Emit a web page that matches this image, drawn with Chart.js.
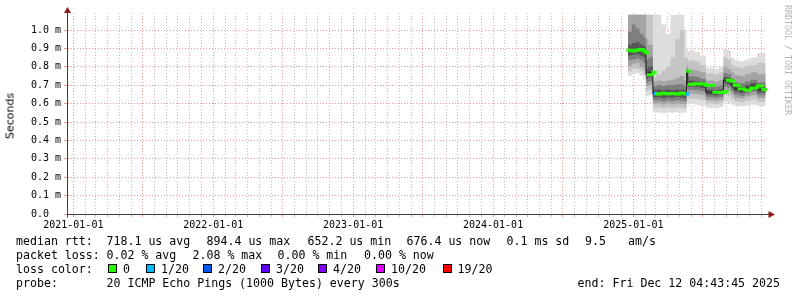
<!DOCTYPE html>
<html lang="en">
<head>
<meta charset="UTF-8">
<title>Smokeping latency</title>
<script src="https://cdn.jsdelivr.net/npm/chart.js@4.4.1/dist/chart.umd.min.js"></script>
<style>
  body { margin: 0; background: #fff; }
  #wrap { position: relative; width: 797px; height: 297px; overflow: hidden; font-family: 'DejaVu Sans Mono', monospace; font-size: 11.6px; color: #000; }
  #chart { position: absolute; left: 0; top: 0; }
  .t { position: absolute; white-space: pre; line-height: 14px; }
  .sq { position: absolute; width: 7px; height: 7px; border: 1px solid #000; top: 264px; }
  #ylab { position: absolute; left: 10px; top: 116px; transform: translate(-50%, -50%) rotate(-90deg); font-family: 'DejaVu Sans', sans-serif; font-size: 11px; white-space: nowrap; }
  #mark { position: absolute; left: 783px; top: 5px; writing-mode: vertical-rl; font-size: 8.3px; color: #b4b4b4; }
</style>
</head>
<body>
<div id="wrap">
  <canvas id="chart" width="797" height="297"></canvas>
  <div id="ylab">Seconds</div>
  <div id="mark">RRDTOOL / TOBI OETIKER</div>

  <span class="t" style="left:16px;top:234px">median rtt:</span>
  <span class="t" style="left:106.5px;top:234px">718.1 us avg</span>
  <span class="t" style="left:206.5px;top:234px">894.4 us max</span>
  <span class="t" style="left:307.5px;top:234px">652.2 us min</span>
  <span class="t" style="left:406.5px;top:234px">676.4 us now</span>
  <span class="t" style="left:506.5px;top:234px">0.1 ms sd</span>
  <span class="t" style="left:585px;top:234px">9.5</span>
  <span class="t" style="left:628px;top:234px">am/s</span>

  <span class="t" style="left:16px;top:248px">packet loss:</span>
  <span class="t" style="left:106.5px;top:248px">0.02 % avg</span>
  <span class="t" style="left:192.5px;top:248px">2.08 % max</span>
  <span class="t" style="left:277.5px;top:248px">0.00 % min</span>
  <span class="t" style="left:364px;top:248px">0.00 % now</span>

  <span class="t" style="left:16px;top:262px">loss color:</span>
  <div class="sq" style="left:108px;background:#26ff00"></div><span class="t" style="left:123px;top:262px">0</span>
  <div class="sq" style="left:146px;background:#00b8ff"></div><span class="t" style="left:161px;top:262px">1/20</span>
  <div class="sq" style="left:203px;background:#0059ff"></div><span class="t" style="left:218px;top:262px">2/20</span>
  <div class="sq" style="left:261px;background:#5e00ff"></div><span class="t" style="left:276px;top:262px">3/20</span>
  <div class="sq" style="left:318px;background:#7e00ff"></div><span class="t" style="left:333px;top:262px">4/20</span>
  <div class="sq" style="left:376px;background:#dd00ff"></div><span class="t" style="left:391px;top:262px">10/20</span>
  <div class="sq" style="left:442.5px;background:#ff0000"></div><span class="t" style="left:457.5px;top:262px">19/20</span>

  <span class="t" style="left:16px;top:276px">probe:</span>
  <span class="t" style="left:106.5px;top:276px">20 ICMP Echo Pings (1000 Bytes) every 300s</span>
  <span class="t" style="right:17px;top:276px">end: Fri Dec 12 04:43:45 2025</span>
</div>
<script>
    // Sample times (each value holds until the next date)
    const dates = [
        '2024-12-18', '2024-12-28', '2025-01-07', '2025-01-17', '2025-01-27', '2025-02-03',
        '2025-02-09', '2025-02-21',
        '2025-02-27', '2025-03-03', '2025-03-15', '2025-03-27', '2025-04-08', '2025-04-20', '2025-05-02', '2025-05-14', '2025-05-20',
        '2025-05-23',
        '2025-05-27', '2025-06-10', '2025-06-24', '2025-07-09',
        '2025-07-30', '2025-08-12', '2025-08-24',
        '2025-09-03', '2025-09-13',
        '2025-09-21', '2025-10-04', '2025-10-19', '2025-11-03', '2025-11-20', '2025-12-05', '2025-12-12'
    ];

    // Median rtt in ms
    const median = [
        0.890, 0.886, 0.891, 0.894, 0.885, 0.876,
        0.757, 0.770,
        0.655, 0.652, 0.656, 0.653, 0.655, 0.652, 0.657, 0.653, 0.652,
        0.776,
        0.705, 0.708, 0.706, 0.699,
        0.662, 0.660, 0.664,
        0.727, 0.722,
        0.700, 0.680, 0.673, 0.685, 0.696, 0.676, 0.676
    ];

    // Lost pings (out of 20)
    const loss = [
        0, 0, 0, 0, 0, 0,
        0, 0,
        1, 0, 0, 0, 0, 0, 0, 0, 1,
        0,
        0, 0, 0, 0,
        0, 0, 0,
        0, 0,
        0, 0, 0, 0, 0, 0, 0
    ];

    // Smoke bands, outer (1) to inner (5), ms
    const smokeHi1 = [
        1.083, 1.083, 1.083, 1.083, 1.083, 1.083,
        1.083, 1.083,
        1.083, 1.083, 1.083, 1.03, 0.98, 1.083, 1.083, 1.083, 1.0,
        0.90,
        0.885, 0.89, 0.88, 0.86,
        0.795, 0.79, 0.80,
        0.895, 0.89,
        0.85, 0.835, 0.83, 0.84, 0.85, 0.875, 0.875
    ];
    const smokeHi2 = [
        1.083, 1.083, 1.083, 1.083, 1.083, 1.083,
        1.083, 1.083,
        0.74, 0.75, 0.76, 0.78, 0.80, 0.85, 0.95, 1.0, 0.85,
        0.85,
        0.83, 0.835, 0.83, 0.81,
        0.765, 0.76, 0.77,
        0.85, 0.84,
        0.81, 0.80, 0.795, 0.805, 0.81, 0.82, 0.82
    ];
    const smokeHi3 = [
        1.083, 1.083, 1.083, 1.083, 1.083, 1.083,
        0.95, 0.92,
        0.72, 0.72, 0.725, 0.72, 0.725, 0.73, 0.74, 0.75, 0.73,
        0.81,
        0.78, 0.785, 0.78, 0.77,
        0.725, 0.72, 0.73,
        0.80, 0.79,
        0.77, 0.755, 0.75, 0.76, 0.77, 0.76, 0.76
    ];
    const smokeHi4 = [
        1.02, 0.99, 1.03, 1.01, 0.98, 0.96,
        0.84, 0.85,
        0.695, 0.695, 0.70, 0.695, 0.70, 0.70, 0.705, 0.705, 0.695,
        0.79,
        0.745, 0.75, 0.745, 0.735,
        0.695, 0.692, 0.698,
        0.765, 0.76,
        0.735, 0.715, 0.71, 0.72, 0.73, 0.715, 0.715
    ];
    const smokeHi5 = [
        0.93, 0.92, 0.93, 0.935, 0.92, 0.91,
        0.79, 0.80,
        0.675, 0.672, 0.676, 0.672, 0.676, 0.673, 0.677, 0.675, 0.672,
        0.785,
        0.722, 0.725, 0.722, 0.715,
        0.676, 0.674, 0.678,
        0.745, 0.74,
        0.717, 0.697, 0.69, 0.70, 0.712, 0.694, 0.694
    ];
    const smokeLo5 = [
        0.865, 0.862, 0.866, 0.868, 0.86, 0.85,
        0.735, 0.745,
        0.635, 0.632, 0.635, 0.63, 0.635, 0.632, 0.636, 0.632, 0.63,
        0.74,
        0.69, 0.692, 0.69, 0.685,
        0.648, 0.646, 0.65,
        0.71, 0.705,
        0.684, 0.664, 0.658, 0.67, 0.68, 0.66, 0.66
    ];
    const smokeLo4 = [
        0.84, 0.835, 0.84, 0.845, 0.835, 0.82,
        0.715, 0.72,
        0.618, 0.615, 0.618, 0.612, 0.618, 0.614, 0.618, 0.615, 0.612,
        0.71,
        0.672, 0.675, 0.672, 0.667,
        0.634, 0.632, 0.636,
        0.692, 0.688,
        0.667, 0.648, 0.643, 0.654, 0.664, 0.645, 0.645
    ];
    const smokeLo3 = [
        0.81, 0.805, 0.815, 0.82, 0.80, 0.79,
        0.695, 0.70,
        0.60, 0.598, 0.60, 0.595, 0.60, 0.597, 0.60, 0.598, 0.595,
        0.68,
        0.652, 0.655, 0.652, 0.648,
        0.618, 0.616, 0.62,
        0.672, 0.668,
        0.648, 0.632, 0.628, 0.638, 0.646, 0.63, 0.63
    ];
    const smokeLo2 = [
        0.785, 0.775, 0.79, 0.79, 0.78, 0.76,
        0.67, 0.675,
        0.58, 0.577, 0.58, 0.575, 0.58, 0.576, 0.58, 0.577, 0.575,
        0.65,
        0.625, 0.628, 0.625, 0.62,
        0.60, 0.598, 0.602,
        0.645, 0.64,
        0.625, 0.612, 0.607, 0.615, 0.622, 0.61, 0.61
    ];
    const smokeLo1 = [
        0.755, 0.75, 0.76, 0.765, 0.752, 0.73,
        0.64, 0.645,
        0.555, 0.55, 0.552, 0.548, 0.555, 0.55, 0.553, 0.55, 0.552,
        0.60,
        0.595, 0.598, 0.594, 0.59,
        0.578, 0.576, 0.58,
        0.61, 0.605,
        0.595, 0.588, 0.585, 0.59, 0.594, 0.585, 0.585
    ];

    // Axis ticks
    const yTicks = [0, 0.1, 0.2, 0.3, 0.4, 0.5, 0.6, 0.7, 0.8, 0.9, 1.0];
    const lossLevels = [0, 1, 2, 3, 4, 10, 19];
    const lossColors = ['#26ff00', '#00b8ff', '#0059ff', '#5e00ff', '#7e00ff', '#dd00ff', '#ff0000'];

    const DAY = 86400000;
    const X_MIN = Date.UTC(2020, 11, 15, 12);
    const X_MAX = X_MIN + 1826.2 * DAY;
    const Y_MAX = 1.0924;

    const smokeColors = ['#dddddd', '#c4c4c4', '#a4a4a4', '#7e7e7e', '#565656'];
    const MINOR_GRID = 'rgba(160, 160, 160, 0.65)';
    const MAJOR_GRID = 'rgba(225, 100, 100, 0.65)';

    const t = dates.map(d => Date.parse(d + 'T00:00:00Z'));
    const pts = arr => arr.map((v, i) => ({ x: t[i], y: v }));

    function lossColor(n) {
        let c = lossColors[0];
        lossLevels.forEach((lv, i) => { if (n >= lv) c = lossColors[i]; });
        return c;
    }

    // month ticks for the grid
    const monthTicks = [];
    for (let y = 2020; y <= 2025; y++) {
        for (let m = 0; m < 12; m++) {
            const v = Date.UTC(y, m, 1);
            if (v >= X_MIN && v <= X_MAX) monthTicks.push(v);
        }
    }
    const isHalfYear = v => new Date(v).getUTCMonth() % 6 === 0;

    const datasets = [];
    const his = [smokeHi1, smokeHi2, smokeHi3, smokeHi4, smokeHi5];
    const los = [smokeLo1, smokeLo2, smokeLo3, smokeLo4, smokeLo5];
    for (let k = 0; k < 5; k++) {
        datasets.push({
            data: pts(los[k]), stepped: 'after', borderWidth: 0, borderColor: 'rgba(0,0,0,0)',
            pointRadius: 0, fill: false, order: 100 - 2 * k
        });
        datasets.push({
            data: pts(his[k]), stepped: 'after', borderWidth: 0, borderColor: 'rgba(0,0,0,0)',
            pointRadius: 0, backgroundColor: smokeColors[k], fill: datasets.length - 1, order: 100 - 2 * k
        });
    }

    // thin dark median with the vertical steps
    datasets.push({
        data: pts(median), stepped: 'after', borderWidth: 1, borderColor: '#1a1a1a',
        pointRadius: 0, fill: false, order: 1
    });

    // thick coloured median, horizontal parts only
    const medianSteps = [];
    for (let i = 0; i < t.length - 1; i++) {
        medianSteps.push({ x: t[i], y: median[i] }, { x: t[i + 1], y: median[i] });
    }
    datasets.push({
        data: medianSteps, borderWidth: 3, borderColor: lossColors[0], borderCapStyle: 'square',
        pointRadius: 0, fill: false, order: 0,
        segment: {
            borderColor: c => c.p0.parsed.x === c.p1.parsed.x ? 'rgba(0,0,0,0)' : lossColor(loss[c.p0DataIndex >> 1])
        }
    });

    const axisArrows = {
        id: 'axisArrows',
        afterDraw(chart) {
            const { ctx, chartArea: a } = chart;
            const x0 = Math.round(a.left) + 0.5;
            const y0 = Math.round(a.bottom) + 0.5;
            ctx.save();
            ctx.strokeStyle = '#404040';
            ctx.lineWidth = 1;
            ctx.beginPath();
            ctx.moveTo(a.right, y0); ctx.lineTo(a.right + 2, y0);
            ctx.moveTo(x0, a.top); ctx.lineTo(x0, a.top - 1);
            ctx.moveTo(x0, y0); ctx.lineTo(x0, y0 + 3);
            ctx.stroke();
            ctx.fillStyle = '#8b1a1a';
            ctx.beginPath();
            ctx.moveTo(x0, a.top - 6);
            ctx.lineTo(x0 - 3.5, a.top);
            ctx.lineTo(x0 + 3.5, a.top);
            ctx.closePath();
            ctx.fill();
            ctx.beginPath();
            ctx.moveTo(a.right + 8, y0);
            ctx.lineTo(a.right + 1.5, y0 - 3.5);
            ctx.lineTo(a.right + 1.5, y0 + 3.5);
            ctx.closePath();
            ctx.fill();
            ctx.restore();
        }
    };

    const tickFont = { family: 'DejaVu Sans Mono', size: 10 };

    new Chart(document.getElementById('chart'), {
        type: 'line',
        data: { datasets },
        options: {
            responsive: false,
            animation: false,
            devicePixelRatio: 1,
            layout: { padding: { left: 0, right: 30, top: 13, bottom: 0 } },
            plugins: { legend: { display: false }, tooltip: { enabled: false } },
            scales: {
                x: {
                    type: 'linear',
                    min: X_MIN,
                    max: X_MAX,
                    afterBuildTicks: s => { s.ticks = monthTicks.map(v => ({ value: v })); },
                    afterFit: s => { s.height = 83; },
                    ticks: {
                        autoSkip: false,
                        maxRotation: 0,
                        padding: 2,
                        color: '#000',
                        font: tickFont,
                        callback: v => {
                            const d = new Date(v);
                            return d.getUTCMonth() === 0 ? d.getUTCFullYear() + '-01-01' : '';
                        }
                    },
                    grid: {
                        color: c => (c.tick && isHalfYear(c.tick.value)) ? MAJOR_GRID : MINOR_GRID,
                        tickColor: c => (c.tick && isHalfYear(c.tick.value)) ? MAJOR_GRID : MINOR_GRID,
                        tickLength: 3
                    },
                    border: { color: '#404040', dash: [1, 2] }
                },
                y: {
                    min: 0,
                    max: Y_MAX,
                    afterBuildTicks: s => { s.ticks = yTicks.map(v => ({ value: v })); },
                    afterFit: s => { s.width = 67; },
                    ticks: {
                        padding: 3,
                        color: '#000',
                        font: tickFont,
                        callback: v => v === 0 ? '0.0  ' : v.toFixed(1) + ' m'
                    },
                    grid: { color: MAJOR_GRID, tickColor: MAJOR_GRID, tickLength: 3 },
                    border: { color: '#404040', dash: [1, 2] }
                }
            }
        },
        plugins: [axisArrows]
    });
</script>
</body>
</html>
